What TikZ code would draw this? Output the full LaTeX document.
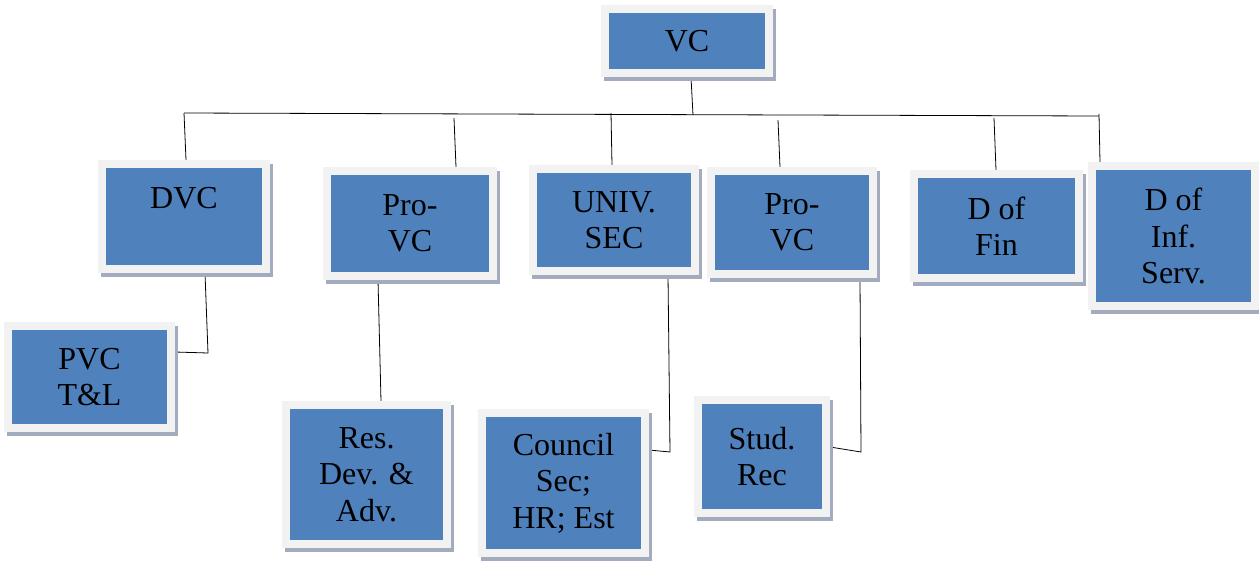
\documentclass[tikz,border=0pt]{standalone}
\usepackage{fontspec}
\setmainfont{Liberation Serif}
\newfontfamily\boxfont{Liberation Serif}
\usetikzlibrary{backgrounds}
\definecolor{boxblue}{HTML}{4F81BD}
\definecolor{framec}{HTML}{F2F2F2}
\definecolor{shadowc}{RGB}{162,172,190}
\tikzset{
  obox/.style={rectangle, fill=boxblue, draw=framec, line width=8pt, inner sep=0pt,
    align=center, text=black, font=\boxfont\fontsize{32}{36.5}\selectfont},
  conn/.style={draw=black, line width=0.8pt}
}
\newcommand\orgbox[6]{%
  \fill[shadowc] ({#2+3},{#3+4}) rectangle ({#4+3},{#5+4});
  \node[obox, minimum width={(#4-#2-8)*1pt}, minimum height={(#5-#3-8)*1pt}] (#1) at ({(#2+#4)/2},{(#3+#5)/2}) {#6};
}
\begin{document}
\begin{tikzpicture}[x=1pt,y=-1pt]
\useasboundingbox (0,0) rectangle (1259,560);
\orgbox{vc}{601}{5}{773}{77}{VC}
\orgbox{dvc}{98}{160}{270}{273}{DVC\\ \mbox{}}
\orgbox{pvc1}{323}{167}{497}{280}{Pro-\\VC}
\orgbox{usec}{529}{165}{699}{275}{UNIV.\\SEC}
\orgbox{pvc2}{707}{167}{877}{278}{Pro-\\VC}
\orgbox{dfin}{910}{170}{1083}{282}{D of\\Fin}
\orgbox{dinf}{1088}{162}{1259}{310}{D of\\Inf.\\Serv.}
\orgbox{ptl}{4}{322}{175}{432}{PVC\\T\&L}
\orgbox{res}{282}{401}{451}{548}{Res.\\Dev. \&\\Adv.}
\orgbox{council}{478}{409}{649}{557}{Council\\Sec;\\HR; Est}
\orgbox{stud}{694}{396}{830}{517}{Stud.\\Rec}
\coordinate (busL) at (184,113);
\coordinate (busR) at (1099,116);
\coordinate (busVC) at (693,115);
\coordinate (t1) at (454,118);
\coordinate (t2) at (611,113);
\coordinate (t3) at (778,120);
\coordinate (t4) at (994,118);
\coordinate (t5) at (1099,114);
\coordinate (k1) at (208,353);
\coordinate (k2) at (670,452);
\coordinate (k3) at (861,452);
\begin{pgfonlayer}{background}
\fill[white] (0,0) rectangle (1259,560);
\draw[conn] (busL) -- (busR);
\draw[conn] ([xshift=4pt]vc.south) -- (busVC);
\draw[conn] (busL) -- ([xshift=2pt]dvc.north);
\draw[conn] (t1) -- ([xshift=46pt]pvc1.north);
\draw[conn] (t2) -- ([xshift=-2pt]usec.north);
\draw[conn] (t3) -- ([xshift=-12pt]pvc2.north);
\draw[conn] (t4) -- ([xshift=-0.5pt]dfin.north);
\draw[conn] (t5) -- ([xshift=-73.5pt]dinf.north);
\draw[conn] ([xshift=21pt]dvc.south) -- (k1) -- ([yshift=25pt]ptl.east);
\draw[conn] ([xshift=-32pt]pvc1.south) -- ([xshift=14.5pt]res.north);
\draw[conn] ([xshift=54pt]usec.south) -- (k2) -- ([yshift=33pt]council.east);
\draw[conn] ([xshift=68pt]pvc2.south) -- (k3) -- ([yshift=9.5pt]stud.east);
\end{pgfonlayer}
\end{tikzpicture}
\end{document}
